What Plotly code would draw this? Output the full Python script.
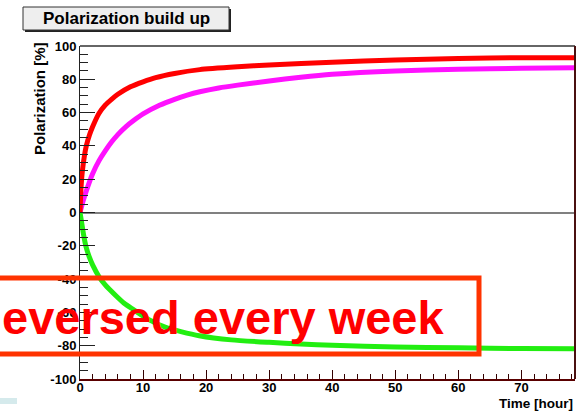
import plotly.graph_objects as go

# ---- data ----
t_red = [0, 0.15, 0.35, 0.7, 1, 1.5, 2, 3, 4, 5, 6, 8, 10, 12, 15, 19, 25, 30, 40, 50, 60, 70, 78.5]
p_red = [0, 14, 24, 34, 40, 46.5, 51.5, 59.5, 64.5, 68, 71, 75.5, 78.5, 81, 83.5, 85.8, 87.5, 88.6, 90.3, 91.6, 92.5, 93, 93]

t_mag = [0, 0.5, 1, 2, 3, 4, 5, 6, 7.3, 8.5, 10, 12.6, 15, 17, 19, 22, 25, 30, 35, 40, 50, 60, 70, 78.5]
p_mag = [0, 7, 13, 23.3, 31, 37, 42.3, 46.8, 51.6, 55.2, 59.2, 64.4, 68, 70.5, 72.5, 74.8, 76.5, 79, 81.2, 83, 85, 86, 86.6, 87]

t_grn = [0, 0.3, 0.6, 0.95, 1.5, 2, 3, 4, 5.7, 7, 8.35, 11, 13.6, 16, 18.9, 24, 30, 35, 40, 50, 60, 70, 78.5]
p_grn = [0, -7, -14, -20.5, -27, -31.5, -38.5, -43.5, -50, -54.5, -58, -64.5, -69, -71.5, -74, -76.5, -78, -79, -79.8, -80.8, -81.3, -81.7, -81.8]

x_range = [0, 78.5]
y_range = [-100, 100]
y_ticks = [-100, -80, -60, -40, -20, 0, 20, 40, 60, 80, 100]
y_ticktext = ["-100", "-80", "-60", "-40", "-20", "0", "20", "40", "60", "80", "100"]
x_ticks = [0, 10, 20, 30, 40, 50, 60, 70]

title_text = "Polarization build up"
ytitle_text = "Polarization [%]"
xtitle_text = "Time [hour]"
overlay_text = "eversed every week"

# ---- layout geometry ----
W, H = 585, 411
L, R, T, B = 80, 10, 46, 32
PW, PH = W - L - R, H - T - B

def px(x):
    return (x - L) / PW

def py(y):
    return (H - B - y) / PH

FONT = "Liberation Sans, Arial, sans-serif"

fig = go.Figure()
fig.add_trace(go.Scatter(x=t_grn, y=p_grn, mode="lines", line=dict(color="#22ee11", width=5, shape="spline", smoothing=0.6), showlegend=False))
fig.add_trace(go.Scatter(x=t_mag, y=p_mag, mode="lines", line=dict(color="#ff11ff", width=5, shape="spline", smoothing=0.6), showlegend=False))
fig.add_trace(go.Scatter(x=t_red, y=p_red, mode="lines", line=dict(color="#ff0000", width=5, shape="spline", smoothing=0.6), showlegend=False))

fig.update_layout(
    width=W, height=H,
    margin=dict(l=L, r=R, t=T, b=B, pad=0),
    paper_bgcolor="white", plot_bgcolor="white",
    font=dict(family=FONT, color="black"),
    xaxis=dict(
        range=x_range, tickvals=x_ticks, ticks="inside", ticklen=9, tickwidth=1, tickcolor="#330000",
        minor=dict(dtick=2, tick0=0, ticks="inside", ticklen=5, tickcolor="#330000", showgrid=False),
        showgrid=False, zeroline=False, showline=True, linecolor="#5a0000", linewidth=2,
        ticklabelstandoff=-5,
        tickfont=dict(family=FONT, size=13, weight="bold", color="black"),
    ),
    yaxis=dict(
        range=y_range, tickvals=y_ticks, ticktext=y_ticktext, ticks="inside", ticklen=15, tickwidth=1, tickcolor="#222222",
        minor=dict(dtick=5, tick0=0, ticks="inside", ticklen=8, tickcolor="#222222", showgrid=False),
        showgrid=False, zeroline=True, zerolinecolor="#808080", zerolinewidth=1.5,
        showline=True, linecolor="#222222", linewidth=1,
        tickfont=dict(family=FONT, size=13, weight="bold", color="black"),
    ),
)

shapes = [
    # top and right frame lines
    dict(type="line", xref="paper", yref="paper", x0=0, x1=1, y0=1, y1=1, line=dict(color="#333333", width=1.5)),
    dict(type="line", xref="paper", yref="paper", x0=1, x1=1, y0=0, y1=1, line=dict(color="#4a1010", width=2)),
    # title box shadow and box
    dict(type="rect", xref="paper", yref="paper", x0=px(25), x1=px(231), y0=py(32), y1=py(9),
         line=dict(width=0), fillcolor="#222222", layer="above"),
    dict(type="rect", xref="paper", yref="paper", x0=px(23), x1=px(229), y0=py(30), y1=py(7),
         line=dict(color="#333333", width=1), fillcolor="#eeeeee", layer="above"),
    # overlay box
    dict(type="rect", xref="paper", yref="paper", x0=px(-20), x1=px(479), y0=py(354), y1=py(278),
         line=dict(color="#ff3300", width=5), fillcolor="rgba(0,0,0,0)", layer="above"),
    # light blue strip bottom-left
    dict(type="rect", xref="paper", yref="paper", x0=px(0), x1=px(17), y0=py(404), y1=py(398),
         line=dict(width=0), fillcolor="#d5eaec", layer="above"),
]
fig.update_layout(shapes=shapes)

annotations = [
    dict(text=title_text, xref="paper", yref="paper", x=px(126), y=py(19), xanchor="center", yanchor="middle",
         showarrow=False, font=dict(family=FONT, size=17, weight="bold", color="black")),
    dict(text=ytitle_text, xref="paper", yref="paper", x=px(40), y=py(99), xanchor="center", yanchor="middle",
         textangle=-90, showarrow=False, font=dict(family=FONT, size=15, weight="bold", color="black")),
    dict(text=xtitle_text, xref="paper", yref="paper", x=px(575), y=py(403), xanchor="right", yanchor="middle",
         showarrow=False, font=dict(family=FONT, size=13.5, weight="bold", color="black")),
    dict(text=overlay_text, xref="paper", yref="paper", x=px(0), y=py(317), xanchor="left", yanchor="middle",
         showarrow=False, font=dict(family=FONT, size=47, weight="bold", color="#ff0000")),
]
fig.update_layout(annotations=annotations)

fig.write_html("out.html")
